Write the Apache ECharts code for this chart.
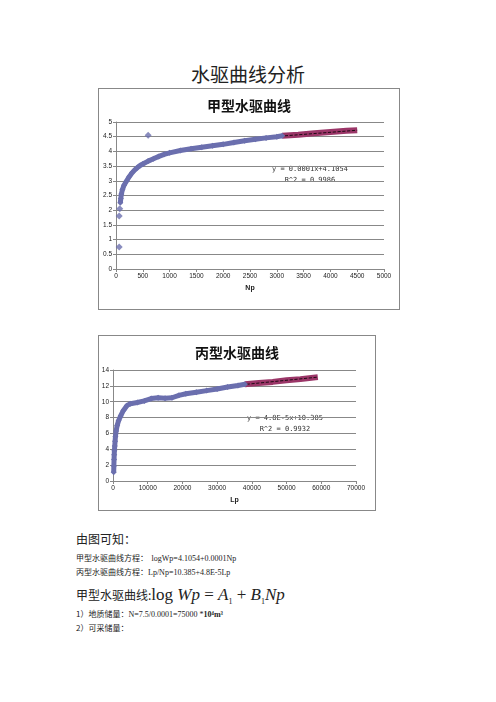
<!DOCTYPE html><html><head><meta charset="utf-8">
<script src="https://cdn.jsdelivr.net/npm/echarts@6/dist/echarts.min.js"></script>
<style>
body{margin:0;width:496px;height:702px;background:#fff;position:relative;font-family:"Noto Sans CJK SC",serif;overflow:hidden}
.box{position:absolute;border:1px solid #888;background:#fff}
.t{position:absolute;color:#222;white-space:nowrap}
</style></head><body>
<div class="t" style="left:0;width:496px;text-align:center;top:60px;font-size:19px;font-family:'Noto Sans CJK SC'">水驱曲线分析</div>
<div id="c1" class="box" style="left:98px;top:88px;width:300px;height:220px"></div>
<div id="c2" class="box" style="left:98px;top:335px;width:276px;height:174px"></div>
<div class="t" style="left:76px;top:530px;font-size:12px">由图可知：</div>
<div class="t" style="left:76px;top:552px;font-size:8px">甲型水驱曲线方程：&nbsp;&nbsp;<span style="font-family:'Liberation Serif'">logWp=4.1054+0.0001Np</span></div>
<div class="t" style="left:76px;top:566px;font-size:8px">丙型水驱曲线方程：<span style="font-family:'Liberation Serif'">Lp/Np=10.385+4.8E-5Lp</span></div>
<div class="t" style="left:76px;top:585px;font-size:12px">甲型水驱曲线:<span style="font-family:'Liberation Serif';font-size:17px">log <i>Wp</i> = <i>A</i><sub style="font-size:8px">1</sub> + <i>B</i><sub style="font-size:8px">1</sub><i>Np</i></span></div>
<div class="t" style="left:76px;top:608px;font-size:8px">1）地质储量：<span style="font-family:'Liberation Serif'">N=7.5/0.0001=75000 *<b>10⁴m³</b></span></div>
<div class="t" style="left:76px;top:622px;font-size:8px">2）可采储量：</div>
<script>
const blue1=[[80,2.25],[90,2.4],[100,2.55],[120,2.7],[150,2.85],[200,3.0],[250,3.15],[300,3.27],[350,3.37],[400,3.45],[450,3.52],[500,3.57],[600,3.67],[700,3.75],[800,3.83],[900,3.9],[1000,3.95],[1200,4.03],[1400,4.09],[1600,4.14],[1800,4.19],[2000,4.24],[2200,4.3],[2400,4.36],[2600,4.41],[2800,4.46],[3000,4.5],[3100,4.53]];
const pink1=[[3100,4.53],[3400,4.57],[3700,4.62],[4000,4.66],[4300,4.7],[4500,4.72]];
const outlier1=[[600,4.55],[60,0.75],[60,1.8],[70,2.05]];
const trend1=[[3150,4.53],[4500,4.72]];
const blue2=[[200,1.1],[250,1.9],[300,2.7],[350,3.3],[400,3.8],[500,4.4],[600,5.0],[700,5.6],[900,6.3],[1200,7.0],[1600,7.6],[2200,8.2],[3000,8.9],[4000,9.5],[5000,9.75],[7000,9.9],[9000,10.1],[11000,10.4],[13000,10.5],[15000,10.45],[17000,10.5],[19000,10.8],[21000,11.0],[24000,11.2],[27000,11.4],[30000,11.6],[33000,11.85],[36000,12.05],[38000,12.2]];
const pink2=[[38000,12.2],[42000,12.35],[46000,12.5],[50000,12.7],[54000,12.85],[59000,13.1]];
const trend2=[[38500,12.2],[59000,13.1]];
function mk(id,o){
 const c=echarts.init(document.getElementById(id));
 const ax={axisLine:{show:true,lineStyle:{color:'#888'}},axisTick:{show:true,length:3,lineStyle:{color:'#888'}},axisLabel:{fontSize:6.5,margin:4,color:'#222',fontFamily:'Liberation Sans',formatter:v=>String(v)}};
 c.setOption({animation:false,
  title:{text:o.title,left:'center',top:5,textStyle:{fontSize:14,fontWeight:'bold',color:'#111',fontFamily:'Noto Sans CJK SC'}},
  grid:Object.assign({outerBoundsMode:'none',containLabel:false},o.grid),
  xAxis:Object.assign({type:'value',min:0,max:o.xmax,interval:o.xint,name:o.xname,nameLocation:'middle',nameGap:16,nameTextStyle:{fontSize:7,fontWeight:'bold',color:'#222'},splitLine:{show:false}},ax),
  yAxis:Object.assign({type:'value',min:0,max:o.ymax,interval:o.yint,name:o.yname,nameLocation:'middle',nameGap:o.ygap,nameTextStyle:{fontSize:7,fontWeight:'bold',color:'#222'},splitLine:{show:true,lineStyle:{color:'#888',width:1}}},ax),
  series:[
   {type:'line',data:o.blue,lineStyle:{color:'#6b6fae',width:5},symbol:'diamond',symbolSize:6,itemStyle:{color:'#6b6fae'}},
   {type:'line',data:o.pink,lineStyle:{color:'#9b3668',width:6},symbol:'none'},
   {type:'scatter',data:o.out||[],symbol:'diamond',symbolSize:7,itemStyle:{color:'#6b6fae'}},
   {type:'line',data:o.trend,lineStyle:{color:'#000',width:0.8,type:'dashed'},symbol:'none'}
  ],
  graphic:o.g});
}
mk('c1',{title:'甲型水驱曲线',grid:{left:17,right:15,top:33,bottom:40},xmax:5000,xint:500,ymax:5,yint:0.5,xname:'Np',yname:'log Wp',ygap:13,blue:blue1,pink:pink1,out:outlier1,trend:trend1,
 g:[{type:'text',left:173,top:75,style:{text:'y = 0.0001x+4.1054\n   R^2 = 0.9986',fontSize:7,fill:'#333',fontFamily:'DejaVu Sans Mono',lineHeight:11}}]});
mk('c2',{title:'丙型水驱曲线',grid:{left:14,right:19,top:34,bottom:29},xmax:70000,xint:10000,ymax:14,yint:2,xname:'Lp',yname:'Lp/Np',ygap:10,blue:blue2,pink:pink2,trend:trend2,
 g:[{type:'text',left:148,top:77,style:{text:'y = 4.8E-5x+10.385\n   R^2 = 0.9932',fontSize:7,fill:'#333',fontFamily:'DejaVu Sans Mono',lineHeight:11}}]});
</script></body></html>
